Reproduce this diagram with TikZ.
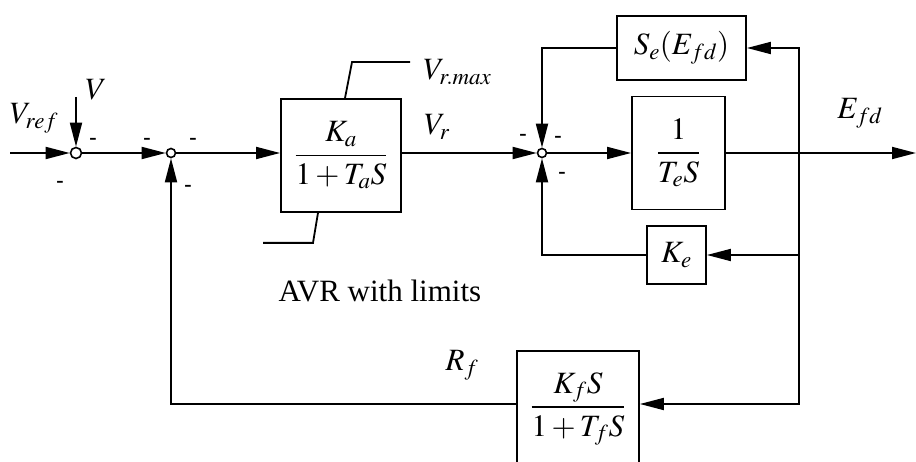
\documentclass[tikz,border=0pt]{standalone}
\usepackage{amsmath}
\usepackage{mathptmx}
\usepackage{fontspec}
\setmainfont{Liberation Serif}
\usetikzlibrary{arrows.meta}
\tikzset{
  blk/.style={draw, line width=1.8pt, inner sep=0pt},
  sumpt/.style={draw, circle, line width=1.6pt, inner sep=0pt, minimum size=9pt},
  sig/.style={line width=1.8pt, -{Triangle[length=24pt,width=12pt]}},
  wire/.style={line width=1.8pt},
  neg/.style={inner sep=0pt, font=\fontsize{22}{22}\selectfont\bfseries}
}
\begin{document}
\begin{tikzpicture}[x=1pt, y=-1pt, font=\fontsize{31}{35}\selectfont]
\useasboundingbox (0,0) rectangle (916,462);
\node[sumpt, minimum size=11pt] (s1) at (76,153) {};
\node[sumpt] (s2) at (171,153) {};
\node[sumpt] (s3) at (542,153) {};
\node[blk, minimum width=120pt, minimum height=113pt] (ka) at (341,155.5) {$\dfrac{K_a}{1+T_aS}$};
\node[blk, minimum width=93pt, minimum height=113pt] (te) at (678.5,153) {$\dfrac{1}{T_eS}$};
\node[blk, minimum width=129pt, minimum height=64pt] (se) at (681.5,48) {$S_e(E_{fd})$};
\node[blk, minimum width=59pt, minimum height=58pt] (ke) at (676.5,255) {$K_e$};
\node[blk, minimum width=122pt, minimum height=116pt] (kf) at (578,409) {$\dfrac{K_fS}{1+T_fS}$};
\coordinate (in) at (10,153);
\coordinate (vtop) at (76,97);
\coordinate (jn) at (799,153);
\coordinate (out) at (916,153);
\coordinate (lft) at (168,404);
\draw[sig] (in) -- (s1);
\draw[sig] (vtop) -- (s1);
\draw[sig] (s1) -- (s2);
\draw[sig] (s2) -- (s2 -| ka.west);
\draw[sig] (ka.east |- s3) -- (s3);
\draw[sig] (s3) -- (te);
\draw[sig] (te) -- (out);
\draw[sig] (jn) |- (se);
\draw[sig] (jn) |- (ke);
\draw[sig] (jn) |- (kf.east |- lft);
\draw[sig] (se) -| (s3);
\draw[sig] (ke) -| (s3);
\draw[sig] (kf.west |- lft) -| (s2);
\draw[wire] ([xshift=4pt]ka.north) -- ++(7,-36) -- ++(58,0);
\draw[wire] ([xshift=-23pt]ka.south) -- ++(-5,30) -- ++(-50,0);
\node (vref) at (34,118) {$V_{ref}$};
\node (vl) at (96,90) {$V$};
\node[anchor=west] (vmax) at (420,72) {$V_{r.max}$};
\node (vr) at (437,127) {$V_r$};
\node (efd) at (860,113) {$E_{fd}$};
\node (rf) at (462,365) {$R_f$};
\node[anchor=base west] (avr) at (275,302) {AVR with limits};
\node[neg] (m1) at (93,141) {-};
\node[neg] (m2) at (60,184) {-};
\node[neg] (m3) at (147,141) {-};
\node[neg] (m4) at (193,141) {-};
\node[neg] (m5) at (188,188) {-};
\node[neg] (m6) at (523,137) {-};
\node[neg] (m7) at (558,139) {-};
\node[neg] (m8) at (562,175) {-};
\end{tikzpicture}
\end{document}
